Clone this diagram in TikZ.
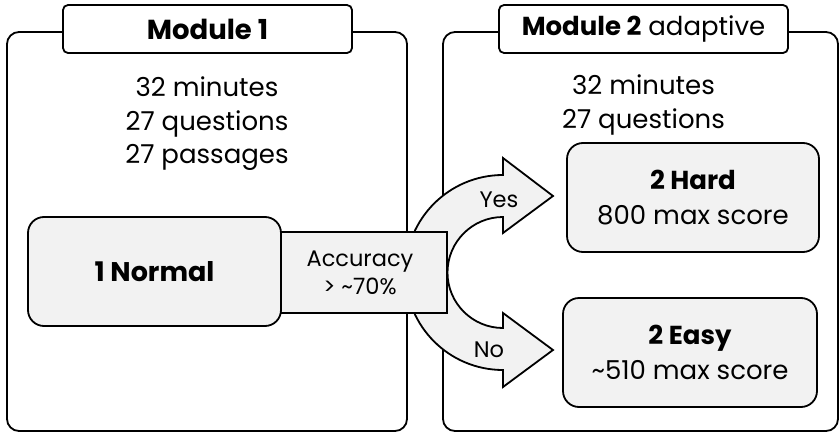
\documentclass[tikz,border=0pt]{standalone}
\usepackage{fontspec}
\setmainfont{Poppins}
\usetikzlibrary{positioning}
\definecolor{boxgrey}{RGB}{242,242,242}

\begin{document}
\begin{tikzpicture}[x=1pt,y=1pt,
	frame/.style={draw, line width=1.8pt, rounded corners=12pt, inner sep=0pt},
	titlebox/.style={draw, fill=white, line width=1.8pt, rounded corners=5pt, minimum width=289pt, minimum height=48pt},
	levelbox/.style={draw, fill=boxgrey, line width=1.8pt, rounded corners=16pt, minimum height=109pt, align=center, font=\fontsize{26}{35}\selectfont},
	info/.style={align=center, font=\fontsize{26}{33.5}\selectfont},
	small/.style={font=\fontsize{22.5}{28}\selectfont, align=center}]
	\useasboundingbox (0,0) rectangle (839,-434);

	\node[frame, minimum width=400pt, minimum height=399pt] (mod1) at (207,-231.5) {};
	\node[frame, minimum width=395pt, minimum height=399pt] (mod2) at (640.5,-231.5) {};

	\node[titlebox, font=\fontsize{27.5}{30}\selectfont] (title1) at (207.5,-29) {\textbf{Module 1}};
	\node[titlebox, font=\fontsize{26}{30}\selectfont] (title2) at (643.5,-29) {\textbf{Module 2} adaptive};

	\node[info] (info1) at (207,-124) {32 minutes\\27 questions\\27 passages};
	\node[info] (info2) at (643.5,-105) {32 minutes\\27 questions};

	\draw[line width=1.8pt, fill=boxgrey, line join=miter]
		(503,-175) -- (503,-158) -- (553,-196) coordinate (yestip) -- (503,-233) -- (503,-217)
		arc[start angle=90, end angle=270, radius=55.5] -- (503,-313) -- (553,-350) coordinate (notip)
		-- (503,-387) -- (503,-370) arc[start angle=270, end angle=90, radius=97.5] -- cycle;
	\node[small] (yes) at (499,-200) {Yes};
	\node[small] (no) at (489,-350) {No};

	\node[draw, fill=boxgrey, line width=1.8pt, minimum width=177pt, minimum height=81pt] (acc) at (358.5,-272.5) {};
	\node[small] (acctext) at (360,-273) {Accuracy\\> \textasciitilde70\%};

	\node[levelbox, minimum width=253pt, font=\fontsize{27}{35}\selectfont] (normal) at (154.5,-271.5) {\textbf{1 Normal}};
	\node[levelbox, minimum width=252pt] (hard) at (693,-197.5) {\textbf{2 Hard}\\800 max score};
	\node[levelbox, minimum width=254pt] (easy) at (690,-352.5) {\textbf{2 Easy}\\\textasciitilde510 max score};
\end{tikzpicture}
\end{document}
